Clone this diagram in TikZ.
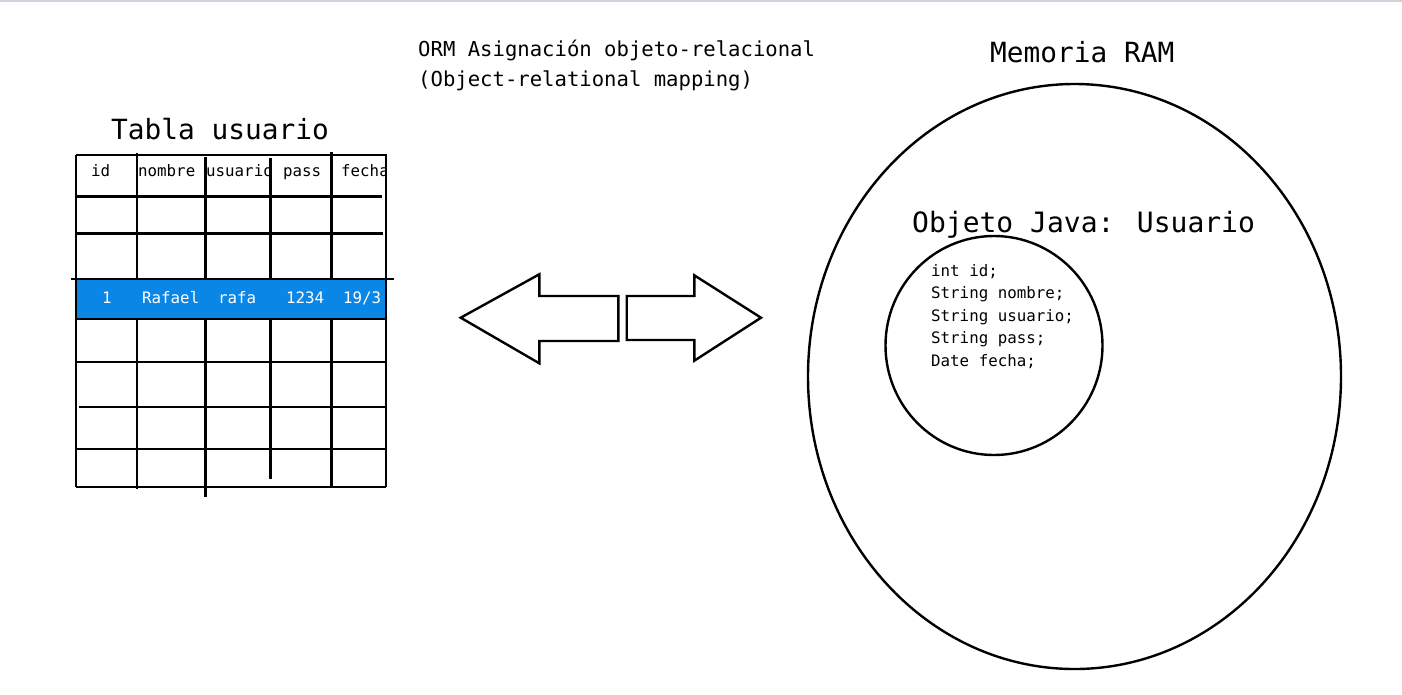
\documentclass[tikz,border=0pt]{standalone}
\usepackage{fontspec}
\setmainfont{DejaVu Sans Mono}
\setmonofont{DejaVu Sans Mono}
\usetikzlibrary{shapes.geometric}
\definecolor{rowblue}{HTML}{0A86E6}
\definecolor{topedge}{HTML}{CDD4DE}
\tikzset{
  tline/.style={line width=2.6pt, black},
  shapeline/.style={line width=2.4pt, black, line join=miter},
  txt/.style={inner sep=0pt, anchor=base west},
  small/.style={font=\fontsize{15.8}{22.5}\selectfont},
  mid/.style={font=\fontsize{20.6}{30}\selectfont},
  big/.style={font=\fontsize{27.8}{32}\selectfont},
  cell/.style={txt, small},
  rowcell/.style={txt, small, text=white},
}
\begin{document}
\begin{tikzpicture}[x=1pt,y=-1pt]
\useasboundingbox (0,0) rectangle (1402,694);
\fill[white] (0,0) rectangle (1402,694);
\draw[topedge, line width=2pt] (0,1) -- (1402,1);

% ---- Titles ----
\node[txt, big] (tabtitle) at (111,139) {Tabla usuario};
\node[txt, mid] (orm1) at (418,56) {ORM Asignación objeto-relacional};
\node[txt, mid] (orm2) at (418,86) {(Object-relational mapping)};
\node[txt, big] (ramtitle) at (990,62) {Memoria RAM};

% ---- Table header texts (clipped by right border) ----
\begin{scope}
\clip (70,150) rectangle (386,500);
\node[cell] (hid) at (91,176) {id};
\node[cell] (hnombre) at (138,176) {nombre};
\node[cell] (husuario) at (206,176) {usuario};
\node[cell] (hpass) at (283,176) {pass};
\node[cell] (hfecha) at (341,176) {fecha};
\end{scope}

% ---- Table vertical lines ----
\draw[tline] (76,155) -- (76,487);
\draw[tline] (137,152.7) -- (137,489);
\draw[tline] (205.7,156.7) -- (205.7,496.7);
\draw[tline] (270.7,158) -- (270.7,479);
\draw[tline] (331.7,152) -- (331.7,488);
\draw[tline] (386,155) -- (386,487);

% ---- Table horizontal lines ----
\draw[tline] (76,155) -- (387,155);
\draw[tline] (76,196.7) -- (381.7,196.7);
\draw[tline] (76,233.5) -- (383,233.5);
\draw[tline] (76,362) -- (386,362);
\draw[tline] (79,407) -- (386,407);
\draw[tline] (76,449) -- (386,449);
\draw[tline] (76,487) -- (386,487);

% ---- Highlighted row ----
\fill[rowblue] (77,279) rectangle (385,319);
\draw[tline] (70.7,279) -- (394,279);
\draw[tline] (77,319) -- (385,319);
\node[rowcell] (r1) at (102,303) {1};
\node[rowcell] (r2) at (142,303) {Rafael};
\node[rowcell] (r3) at (218,303) {rafa};
\node[rowcell] (r4) at (286,303) {1234};
\node[rowcell] (r5) at (343,303) {19/3};

% ---- Arrows ----
\draw[shapeline] (460.7,317.7) -- (539.3,274.3) -- (539.3,296) -- (618.3,296)
  -- (618.3,341) -- (539.3,341) -- (539.3,363.3) -- cycle;
\draw[shapeline] (761,317.7) -- (694.3,275.3) -- (694.3,296) -- (626.7,296)
  -- (626.7,340) -- (694.3,340) -- (694.3,360.7) -- cycle;

% ---- Memory ellipses ----
\node[draw, shapeline, ellipse, minimum width=533pt, minimum height=585pt, inner sep=0pt] (ram) at (1074.5,376.5) {};
\node[draw, shapeline, ellipse, minimum width=217pt, minimum height=219pt, inner sep=0pt] (obj) at (994,345.5) {};
\node[txt, font=\fontsize{28}{32}\selectfont] (objtitle) at (912,232) {Objeto Java: Usuario};
\node[txt, small, align=left] (code) at (931,276) {int id;};
\node[txt, small] (c2) at (931,298.5) {String nombre;};
\node[txt, small] (c3) at (931,321) {String usuario;};
\node[txt, small] (c4) at (931,343.5) {String pass;};
\node[txt, small] (c5) at (931,366) {Date fecha;};
\end{tikzpicture}
\end{document}
